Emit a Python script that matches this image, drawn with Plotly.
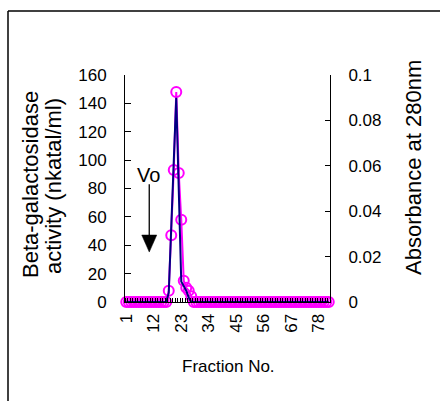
import plotly.graph_objects as go

fractions = list(range(1, 83))
activity_peak_start = 18
activity_peak = [8, 47, 93, 148, 91, 58, 15, 10, 8, 4]
absorbance_peak = [0.004, 0.03, 0.062, 0.09, 0.054, 0.009, 0.007, 0.005, 0.002, 0.0]

activity = [0.0] * len(fractions)
absorbance = [0.0] * len(fractions)
for i, v in enumerate(activity_peak):
    activity[activity_peak_start - 1 + i] = v
for i, v in enumerate(absorbance_peak):
    absorbance[activity_peak_start - 1 + i] = v

tick_labels = [1, 12, 23, 34, 45, 56, 67, 78]
left_ticks = [0, 20, 40, 60, 80, 100, 120, 140, 160]
right_ticks = [0, 0.02, 0.04, 0.06, 0.08, 0.1]

FONT = "Arial, Liberation Sans, sans-serif"
MAG = "#FF00FF"
NAVY = "#000080"

fig = go.Figure()
fig.add_trace(go.Scatter(
    x=fractions, y=activity, mode="lines+markers",
    line=dict(color=MAG, width=2),
    marker=dict(symbol="circle-open", size=10, color=MAG, line=dict(width=2)),
    cliponaxis=False, showlegend=False, yaxis="y"))
fig.add_trace(go.Scatter(
    x=fractions, y=absorbance, mode="lines",
    line=dict(color=NAVY, width=2),
    cliponaxis=False, showlegend=False, yaxis="y2"))

fig.update_layout(
    width=440, height=401,
    margin=dict(l=125, r=110, t=75, b=99),
    paper_bgcolor="white", plot_bgcolor="white",
    font=dict(family=FONT, size=17, color="black"),
    xaxis=dict(
        range=[0.5, 82.5], tickmode="array", tickvals=tick_labels,
        ticktext=[str(t) for t in tick_labels], tickangle=-90,
        showgrid=False, zeroline=False, showline=True, linecolor="black",
        linewidth=1, ticks="", ticklabelstandoff=4,
        minor=dict(ticks="inside", dtick=1, tick0=0.5, ticklen=4, tickcolor="black"),
    ),
    yaxis=dict(
        range=[0, 160], tickvals=left_ticks, showgrid=False, zeroline=False,
        showline=True, linecolor="black", linewidth=1,
        ticks="inside", ticklen=6, tickcolor="black", ticklabelstandoff=14,
    ),
    yaxis2=dict(
        range=[0, 0.1], tickvals=right_ticks, ticktext=["0", "0.02", "0.04", "0.06", "0.08", "0.1"],
        overlaying="y", side="right", showgrid=False, zeroline=False,
        showline=True, linecolor="black", linewidth=1,
        ticks="inside", ticklen=5, tickcolor="black", ticklabelstandoff=14,
    ),
)

TITLE_FS = 22
# axis titles
fig.add_annotation(text="Beta-galactosidase", xref="paper", yref="paper",
                   x=(30 - 125) / 205, y=(302 - 185) / 227, textangle=-90,
                   font=dict(size=TITLE_FS),
                   showarrow=False, xanchor="center", yanchor="middle")
fig.add_annotation(text="activity (nkatal/ml)", xref="paper", yref="paper",
                   x=(53 - 125) / 205, y=(302 - 186) / 227, textangle=-90,
                   font=dict(size=TITLE_FS),
                   showarrow=False, xanchor="center", yanchor="middle")
fig.add_annotation(text="Absorbance at 280nm", xref="paper", yref="paper",
                   x=(413 - 125) / 205, y=(302 - 168) / 227, textangle=-90,
                   font=dict(size=TITLE_FS),
                   showarrow=False, xanchor="center", yanchor="middle")
fig.add_annotation(text="Fraction No.", xref="paper", yref="paper",
                   x=(228 - 125) / 205, y=(302 - 366) / 227,
                   showarrow=False, xanchor="center", yanchor="middle")

# Vo marker
fig.add_annotation(text="Vo", x=10.0, y=89.5, xref="x", yref="y",
                   font=dict(size=20),
                   showarrow=False, xanchor="center", yanchor="middle")
fig.add_shape(type="line", xref="x", yref="y", x0=10.2, x1=10.2, y0=83, y1=46,
              line=dict(color="black", width=1.3))
fig.add_shape(type="path", xref="x", yref="y",
              path="M 7.2,47.2 L 13.2,47.2 L 10.2,35.2 Z",
              fillcolor="black", line=dict(color="black", width=0.5))

# outer frame
fx0 = (8 - 125) / 205
fy1 = (302 - 11) / 227
fig.add_shape(type="line", xref="paper", yref="paper", x0=fx0, x1=2, y0=fy1, y1=fy1,
              line=dict(color="black", width=1.5))
fig.add_shape(type="line", xref="paper", yref="paper", x0=fx0, x1=fx0, y0=fy1, y1=-2,
              line=dict(color="black", width=1.5))

fig.write_html("out.html", config={"displayModeBar": False},
               post_script="document.body.style.margin='0px';")
